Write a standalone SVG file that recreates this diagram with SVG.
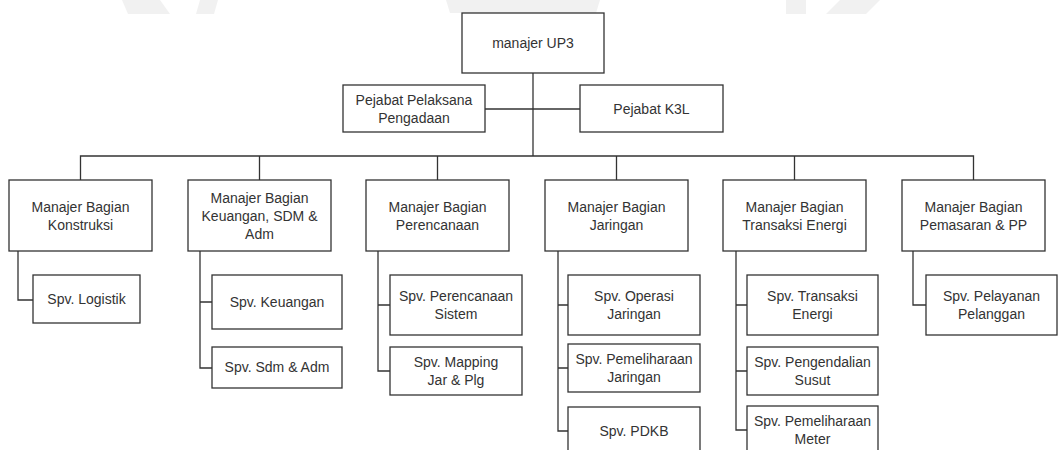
<svg xmlns="http://www.w3.org/2000/svg" width="1060" height="450" viewBox="0 0 1060 450">
<style>
.box{fill:#fff;stroke:#333;stroke-width:1.3}
.t{font-family:"Liberation Sans",Arial,sans-serif;font-size:14px;fill:#333;text-anchor:middle}
.c{fill:none;stroke:#333;stroke-width:1.3}
.wm{fill:#f1f1f1}
</style>
<rect width="1060" height="450" fill="#fff"/>
<g id="watermark">
<polygon class="wm" points="122,0 160,0 170,14 128,14"/>
<polygon class="wm" points="200,0 218,0 214,14 196,14"/>
<polygon class="wm" points="446,0 600,0 596,13 450,13"/>
<polygon class="wm" points="786,0 806,0 806,14 786,14"/>
<polygon class="wm" points="840,0 880,0 866,14 826,14"/>
</g>
<g id="connectors">
<path class="c" d="M533,73 V156"/>
<path class="c" d="M485,109 H580"/>
<path class="c" d="M80.5,180 V156 H973.5 V180"/>
<path class="c" d="M259.5,156 V180 M437.5,156 V180 M616.5,156 V180 M794.5,156 V180"/>
<path class="c" d="M18,251 V300 H33"/>
<path class="c" d="M200,251 V368 H212 M200,302 H212"/>
<path class="c" d="M378,251 V371 H390 M378,305 H390"/>
<path class="c" d="M558,251 V431 H568 M558,305 H568 M558,368 H568"/>
<path class="c" d="M736,251 V430 H747 M736,305 H747 M736,371 H747"/>
<path class="c" d="M913,251 V305 H926"/>
</g>
<g id="manajer-up3"><rect class="box" x="462" y="13" width="142" height="60"/><text class="t" x="533" y="48">manajer UP3</text></g>
<g id="pejabat-pengadaan"><rect class="box" x="343" y="85" width="142" height="47"/><text class="t" x="414" y="105">Pejabat Pelaksana</text><text class="t" x="414" y="123">Pengadaan</text></g>
<g id="pejabat-k3l"><rect class="box" x="580" y="85" width="143" height="47"/><text class="t" x="651.5" y="114">Pejabat K3L</text></g>
<g id="mb-konstruksi"><rect class="box" x="9" y="180" width="143" height="71"/><text class="t" x="80.5" y="212">Manajer Bagian</text><text class="t" x="80.5" y="230">Konstruksi</text></g>
<g id="mb-keuangan"><rect class="box" x="188" y="180" width="143" height="71"/><text class="t" x="259.5" y="203">Manajer Bagian</text><text class="t" x="259.5" y="221">Keuangan, SDM &amp;</text><text class="t" x="259.5" y="239">Adm</text></g>
<g id="mb-perencanaan"><rect class="box" x="366" y="180" width="143" height="71"/><text class="t" x="437.5" y="212">Manajer Bagian</text><text class="t" x="437.5" y="230">Perencanaan</text></g>
<g id="mb-jaringan"><rect class="box" x="545" y="180" width="143" height="71"/><text class="t" x="616.5" y="212">Manajer Bagian</text><text class="t" x="616.5" y="230">Jaringan</text></g>
<g id="mb-transaksi"><rect class="box" x="723" y="180" width="143" height="71"/><text class="t" x="794.5" y="212">Manajer Bagian</text><text class="t" x="794.5" y="230">Transaksi Energi</text></g>
<g id="mb-pemasaran"><rect class="box" x="902" y="180" width="143" height="71"/><text class="t" x="973.5" y="212">Manajer Bagian</text><text class="t" x="973.5" y="230">Pemasaran &amp; PP</text></g>
<g id="spv-logistik"><rect class="box" x="33" y="275" width="107" height="48"/><text class="t" x="86.5" y="304">Spv. Logistik</text></g>
<g id="spv-keuangan"><rect class="box" x="212" y="275" width="130" height="54"/><text class="t" x="277" y="307">Spv. Keuangan</text></g>
<g id="spv-sdm"><rect class="box" x="212" y="347" width="130" height="41"/><text class="t" x="277" y="372">Spv. Sdm &amp; Adm</text></g>
<g id="spv-perencanaan"><rect class="box" x="390" y="275" width="132" height="60"/><text class="t" x="456" y="301">Spv. Perencanaan</text><text class="t" x="456" y="319">Sistem</text></g>
<g id="spv-mapping"><rect class="box" x="390" y="347" width="132" height="48"/><text class="t" x="456" y="367">Spv. Mapping</text><text class="t" x="456" y="385">Jar &amp; Plg</text></g>
<g id="spv-operasi"><rect class="box" x="568" y="275" width="132" height="60"/><text class="t" x="634" y="301">Spv. Operasi</text><text class="t" x="634" y="319">Jaringan</text></g>
<g id="spv-pemeliharaan-jar"><rect class="box" x="568" y="344" width="132" height="48"/><text class="t" x="634" y="364">Spv. Pemeliharaan</text><text class="t" x="634" y="382">Jaringan</text></g>
<g id="spv-pdkb"><rect class="box" x="568" y="407" width="132" height="49"/><text class="t" x="634" y="436">Spv. PDKB</text></g>
<g id="spv-transaksi"><rect class="box" x="747" y="275" width="131" height="60"/><text class="t" x="812.5" y="301">Spv. Transaksi</text><text class="t" x="812.5" y="319">Energi</text></g>
<g id="spv-susut"><rect class="box" x="747" y="347" width="131" height="48"/><text class="t" x="812.5" y="367">Spv. Pengendalian</text><text class="t" x="812.5" y="385">Susut</text></g>
<g id="spv-meter"><rect class="box" x="747" y="406" width="131" height="50"/><text class="t" x="812.5" y="426">Spv. Pemeliharaan</text><text class="t" x="812.5" y="444">Meter</text></g>
<g id="spv-pelanggan"><rect class="box" x="926" y="275" width="131" height="60"/><text class="t" x="991.5" y="301">Spv. Pelayanan</text><text class="t" x="991.5" y="319">Pelanggan</text></g>
</svg>
